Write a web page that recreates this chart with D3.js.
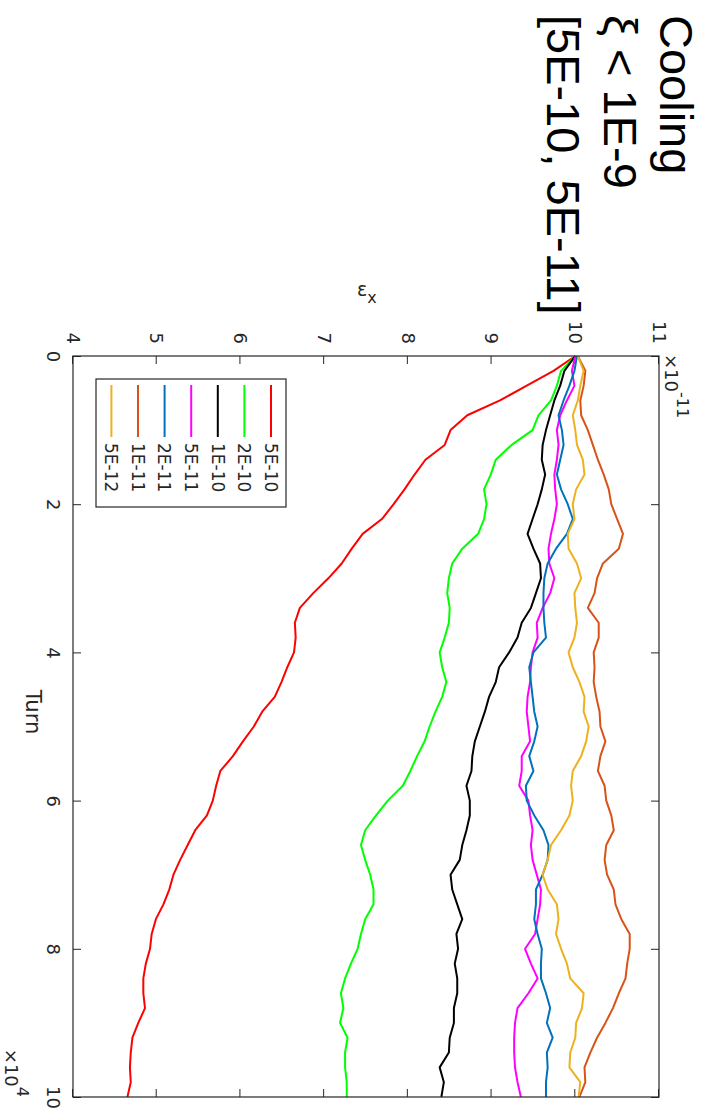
<!DOCTYPE html>
<html><head><meta charset="utf-8">
<script src="https://cdn.jsdelivr.net/npm/d3@7"></script>
<style>
html,body{margin:0;padding:0;background:#fff;}
svg{display:block;}
</style></head><body>
<svg id="chart" width="709" height="1114"></svg>
<script>
// Turn number, in thousands of turns
const turnK = [0,2,4,6,8,10,12,14,16,18,20,22,24,26,28,30,32,34,36,38,40,42,44,46,48,50,
  52,54,56,58,60,62,64,66,68,70,72,74,76,78,80,82,84,86,88,90,92,94,96,98,100];

const seriesNames = ["5E-10","2E-10","1E-10","5E-11","2E-11","1E-11","5E-12"];
const seriesColors = ["#ff0000","#00ff00","#000000","#ff00ff","#0072bd","#d95319","#edb120"];

// Horizontal emittance, units of 1e-11
const eps5e10 = [10.0,9.74,9.42,9.1,8.71,8.51,8.44,8.21,8.08,7.96,7.83,7.69,7.46,7.33,7.21,7.05,6.87,6.71,6.65,6.66,6.64,6.56,6.49,6.41,6.26,6.16,
  6.03,5.91,5.76,5.71,5.67,5.6,5.46,5.37,5.28,5.2,5.15,5.08,4.99,4.94,4.92,4.87,4.84,4.84,4.86,4.78,4.71,4.69,4.68,4.69,4.65];
const eps2e10 = [10.0,9.83,9.78,9.71,9.56,9.49,9.24,9.05,8.99,8.91,8.94,8.91,8.84,8.65,8.53,8.49,8.47,8.5,8.49,8.44,8.38,8.41,8.46,8.41,8.33,8.26,
  8.2,8.11,8.03,7.94,7.76,7.62,7.49,7.44,7.49,7.55,7.59,7.59,7.49,7.44,7.4,7.32,7.25,7.2,7.23,7.19,7.28,7.25,7.25,7.27,7.27];
const eps1e10 = [10.0,9.87,9.82,9.75,9.7,9.65,9.61,9.6,9.64,9.6,9.55,9.49,9.43,9.5,9.58,9.59,9.53,9.47,9.36,9.31,9.21,9.09,9.05,8.97,8.92,8.86,
  8.8,8.77,8.76,8.7,8.74,8.74,8.7,8.65,8.62,8.51,8.53,8.59,8.65,8.58,8.6,8.56,8.59,8.59,8.55,8.55,8.5,8.49,8.38,8.43,8.4];
const eps5e11 = [10.0,9.96,9.99,9.9,9.82,9.78,9.8,9.78,9.75,9.76,9.78,9.75,9.71,9.68,9.69,9.75,9.7,9.61,9.54,9.55,9.49,9.47,9.46,9.43,9.42,9.44,
  9.46,9.36,9.36,9.33,9.44,9.46,9.49,9.47,9.49,9.54,9.59,9.58,9.55,9.52,9.4,9.47,9.55,9.44,9.31,9.28,9.27,9.27,9.28,9.31,9.35];
const eps2e11 = [10.02,9.99,9.93,9.86,9.8,9.84,9.86,9.82,9.78,9.83,9.91,9.97,9.9,9.77,9.67,9.63,9.62,9.62,9.63,9.65,9.5,9.45,9.47,9.49,9.51,9.55,
  9.51,9.45,9.5,9.41,9.42,9.51,9.62,9.68,9.67,9.61,9.53,9.53,9.51,9.55,9.6,9.59,9.59,9.65,9.7,9.66,9.73,9.66,9.67,9.65,9.65];
const eps1e11 = [10.03,10.12,10.1,10.06,10.07,10.15,10.21,10.27,10.34,10.4,10.43,10.5,10.57,10.52,10.33,10.26,10.23,10.15,10.28,10.28,10.22,10.23,10.22,10.25,10.29,10.3,
  10.36,10.3,10.27,10.35,10.37,10.43,10.46,10.37,10.35,10.38,10.46,10.48,10.55,10.65,10.65,10.62,10.6,10.52,10.45,10.36,10.26,10.18,10.11,10.12,10.05];
const eps5e12 = [10.03,10.1,10.06,10.03,9.97,10.0,10.02,10.09,10.11,10.01,9.97,9.99,9.91,9.92,10.02,10.07,9.99,10.0,10.02,9.99,9.92,9.97,10.05,10.11,10.1,10.16,
  10.13,10.07,9.97,9.95,9.97,9.93,9.83,9.71,9.67,9.61,9.67,9.78,9.8,9.77,9.83,9.9,9.94,10.1,10.08,10.01,10.0,9.94,9.93,10.06,10.04];

const seriesValues = [eps5e10, eps2e10, eps1e10, eps5e11, eps2e11, eps1e11, eps5e12];

const turnTicks = [0,2,4,6,8,10];          // x 10^4 turns
const epsTicks = [4,5,6,7,8,9,10,11];      // x 10^-11
const titleLines = ["Cooling", "\u03be < 1E-9", "[5E-10, 5E-11]"];

const ink = "#262626";
const tickFont = "'DejaVu Sans', sans-serif";

const svg = d3.select("#chart");
svg.append("rect").attr("width",709).attr("height",1114).attr("fill","#fff");

// The figure is laid out landscape and turned a quarter turn clockwise.
const g = svg.append("g").attr("transform","translate(709,0) rotate(90)");

const x = d3.scaleLinear().domain([0,10]).range([356,1097]);
const y = d3.scaleLinear().domain([4,11]).range([636,50]);

function styleAxis(sel){
  sel.select(".domain").remove();
  sel.selectAll(".tick line").attr("stroke",ink).attr("stroke-width",1);
  sel.selectAll(".tick text").attr("fill",ink).style("font-family",tickFont).style("font-size","18px");
}

g.append("g").attr("transform",`translate(0,${y(4)})`)
  .call(d3.axisBottom(x).tickValues(turnTicks).tickSize(-8).tickPadding(13).tickFormat(d3.format("d")))
  .call(styleAxis);
g.append("g").attr("transform",`translate(0,${y(11)})`)
  .call(d3.axisTop(x).tickValues(turnTicks).tickSize(-8).tickFormat(""))
  .call(styleAxis);
g.append("g").attr("transform",`translate(${x(0)},0)`)
  .call(d3.axisLeft(y).tickValues(epsTicks).tickSize(-8).tickPadding(12).tickFormat(d3.format("d")))
  .call(styleAxis);
g.append("g").attr("transform",`translate(${x(10)},0)`)
  .call(d3.axisRight(y).tickValues(epsTicks).tickSize(-8).tickFormat(""))
  .call(styleAxis);

// Curves
const line = d3.line().x((d,i)=>x(turnK[i]/10)).y(d=>y(d));
g.append("g").selectAll("path").data(seriesValues).join("path")
  .attr("d", line).attr("fill","none")
  .attr("stroke",(d,i)=>seriesColors[i]).attr("stroke-width",2)
  .attr("stroke-linejoin","round");

// Axes box
g.append("rect").attr("x",x(0)).attr("y",y(11))
  .attr("width",x(10)-x(0)).attr("height",y(4)-y(11))
  .attr("fill","none").attr("stroke",ink).attr("stroke-width",1.2);

// Exponent labels
const yExp = g.append("text").attr("x",x(0)-2).attr("y",44)
  .attr("fill",ink).style("font-family",tickFont).style("font-size","18px");
yExp.append("tspan").text("\u00d710");
yExp.append("tspan").attr("dy",-12).style("font-size","16px").text("-11");

const xExp = g.append("text").attr("x",x(10)).attr("y",704).attr("text-anchor","end")
  .attr("fill",ink).style("font-family",tickFont).style("font-size","18px");
xExp.append("tspan").text("\u00d710");
xExp.append("tspan").attr("dy",-12).style("font-size","16px").text("4");

// Axis title along turns
g.append("text").attr("x",712).attr("y",683).attr("text-anchor","middle")
  .attr("fill",ink).style("font-family",tickFont).style("font-size","21px").text("Turn");

// Legend
const lg = g.append("g");
lg.append("rect").attr("x",379).attr("y",423).attr("width",128).attr("height",190)
  .attr("fill","#fff").attr("stroke",ink).attr("stroke-width",1.2);
seriesNames.forEach((name,i)=>{
  const ry = 438 + i*26.6;
  lg.append("line").attr("x1",385).attr("x2",437).attr("y1",ry).attr("y2",ry)
    .attr("stroke",seriesColors[i]).attr("stroke-width",2);
  lg.append("text").attr("x",443).attr("y",ry).attr("dy","0.36em")
    .attr("fill",ink).style("font-family",tickFont).style("font-size","17px").text(name);
});

// Title block
titleLines.forEach((t,i)=>{
  g.append("text").attr("x",15).attr("y",49 + i*56.5)
    .attr("fill","#000").style("font-family","'Liberation Sans', Arial, sans-serif")
    .style("font-size","47px").text(t);
});

// Vertical-axis label, reads upright
const yl = svg.append("text").attr("x",357).attr("y",296)
  .attr("fill",ink).style("font-family",tickFont).style("font-size","19px");
yl.append("tspan").text("\u03b5");
yl.append("tspan").attr("dy",7).style("font-size","16px").text("x");
</script>
</body></html>
